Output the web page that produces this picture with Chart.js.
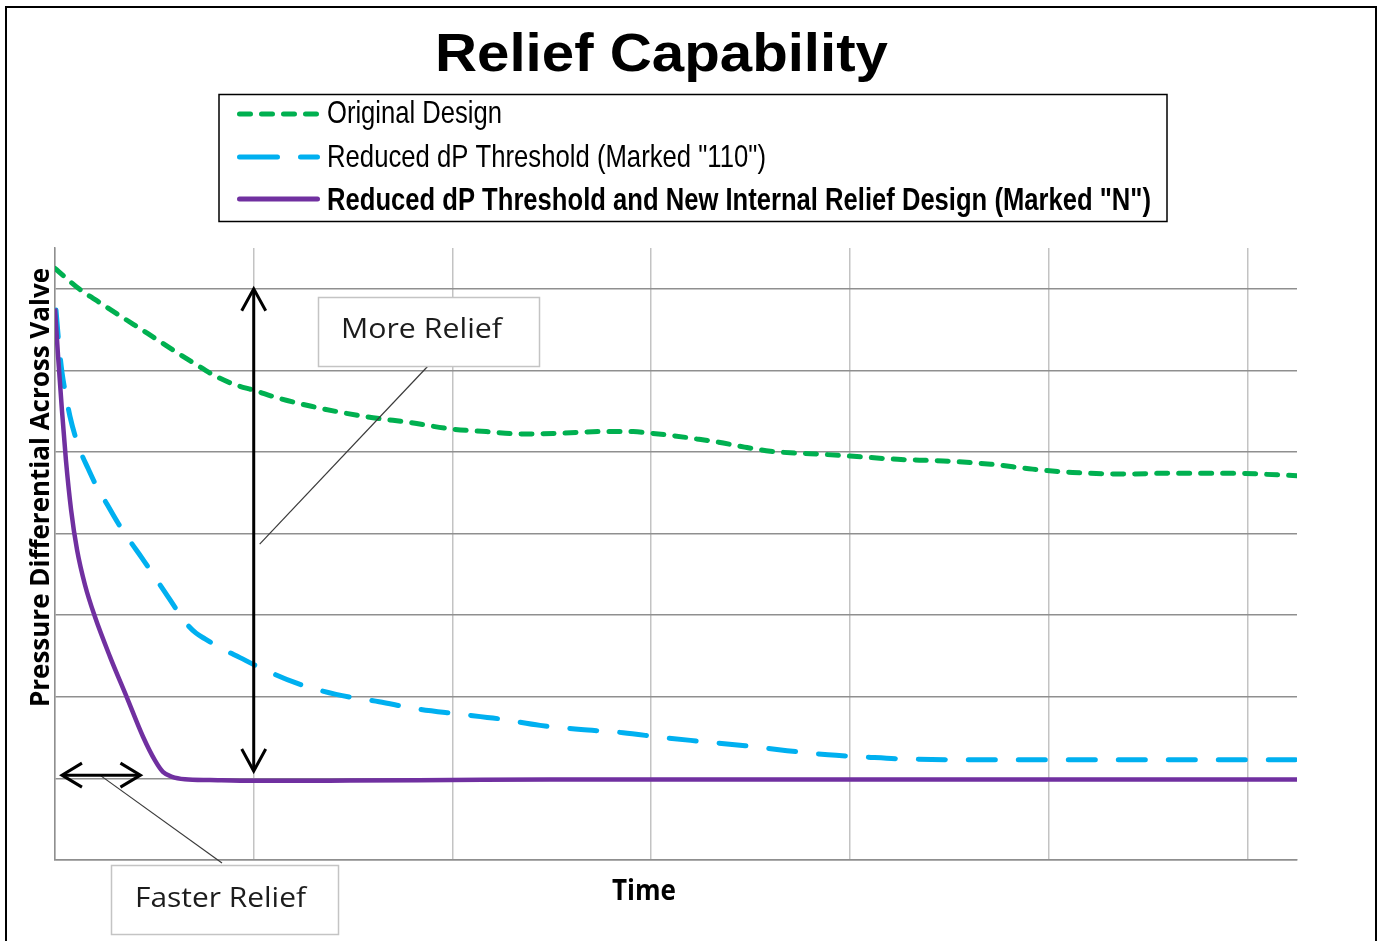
<!DOCTYPE html>
<html><head><meta charset="utf-8">
<script src="https://cdn.jsdelivr.net/npm/chart.js@4.4.1/dist/chart.umd.min.js"></script>
<style>html,body{margin:0;padding:0;background:#fff;overflow:hidden}canvas{display:block}</style>
</head><body>
<canvas id="c" width="1377" height="941" style="width:1377px;height:941px"></canvas>
<script>
// ---------- text ----------
const chartTitle = 'Relief Capability';
const xAxisTitle = 'Time';
const yAxisTitle = 'Pressure Differential Across Valve';
const seriesLabels = [
  'Original Design',
  'Reduced dP Threshold (Marked "110")',
  'Reduced dP Threshold and New Internal Relief Design (Marked "N")'
];
const annotationLabels = ['More Relief', 'Faster Relief'];

// ---------- ticks (grid positions only, labels hidden) ----------
const xTicks = [0, 1, 2, 3, 4, 5, 6];
const yTicks = [0, 1, 2, 3, 4, 5, 6, 7];

// ---------- series values ----------
const originalX = [0, 0.126, 0.226, 0.327, 0.468, 0.594, 0.705, 0.80, 0.90, 1.01, 1.11, 1.29, 1.43, 1.60, 1.79, 2.00, 2.17, 2.36, 2.54, 2.75, 2.91, 3.00, 3.11, 3.23, 3.34, 3.47, 3.60, 3.70, 3.80, 4.00, 4.24, 4.47, 4.71, 4.92, 5.12, 5.37, 5.61, 5.93, 6.15, 6.25];
const originalY = [7.25, 6.99, 6.83, 6.67, 6.45, 6.25, 6.08, 5.94, 5.83, 5.75, 5.67, 5.56, 5.49, 5.42, 5.36, 5.28, 5.25, 5.22, 5.23, 5.25, 5.25, 5.23, 5.20, 5.16, 5.12, 5.06, 5.01, 4.99, 4.98, 4.95, 4.91, 4.89, 4.85, 4.79, 4.75, 4.73, 4.74, 4.74, 4.72, 4.71];

const reducedX = [0.005, 0.02, 0.035, 0.055, 0.075, 0.101, 0.131, 0.166, 0.211, 0.262, 0.317, 0.377, 0.438, 0.493, 0.554, 0.614, 0.664, 0.71, 0.755, 0.84, 0.931, 1.021, 1.213, 1.414, 1.631, 1.827, 2.028, 2.235, 2.441, 2.647, 2.859, 3.06, 3.266, 3.473, 3.684, 3.89, 4.092, 4.253, 4.5, 5.0, 5.5, 6.0, 6.25];
const reducedY = [6.74, 6.31, 5.98, 5.69, 5.44, 5.20, 4.99, 4.80, 4.57, 4.36, 4.13, 3.91, 3.70, 3.50, 3.28, 3.06, 2.89, 2.78, 2.71, 2.59, 2.48, 2.37, 2.17, 2.03, 1.94, 1.85, 1.79, 1.73, 1.65, 1.60, 1.56, 1.50, 1.45, 1.40, 1.34, 1.29, 1.26, 1.24, 1.23, 1.23, 1.23, 1.23, 1.23];

const newDesignX = [0, 0.015, 0.035, 0.055, 0.081, 0.111, 0.151, 0.201, 0.277, 0.362, 0.443, 0.503, 0.543, 0.589, 0.654, 0.78, 1.0, 1.23, 1.48, 1.99, 2.49, 3.0, 4.0, 5.0, 6.0, 6.25];
const newDesignY = [6.76, 6.19, 5.51, 4.90, 4.29, 3.80, 3.37, 2.98, 2.49, 1.99, 1.51, 1.22, 1.08, 1.02, 0.99, 0.98, 0.97, 0.97, 0.975, 0.98, 0.985, 0.985, 0.985, 0.985, 0.985, 0.985];

// ---------- annotation arrows, in data units ----------
const moreReliefArrow = { x: 1.0, yFrom: 7.0, yTo: 1.09 };
const fasterReliefArrow = { y: 1.04, xFrom: 0.035, xTo: 0.43 };
const moreReliefLeaderEnd = { x: 1.03, y: 3.87 };
const fasterReliefLeaderEnd = { x: 0.226, y: 1.04 };

// ---------- styling ----------
const colors = ['#00B050', '#00B0F0', '#7030A0'];
const toPts = (xs, ys) => xs.map((x, i) => ({ x, y: ys[i] }));

function fitText(ctx, text, left, baseline, width, font, color) {
  ctx.save();
  ctx.font = font; ctx.fillStyle = color; ctx.textAlign = 'left'; ctx.textBaseline = 'alphabetic';
  const w = ctx.measureText(text).width;
  ctx.translate(left, baseline); ctx.scale(width / w, 1);
  ctx.fillText(text, 0, 0);
  ctx.restore();
}
function fitTextUp(ctx, text, baselineX, bottomY, length, font, color) {
  ctx.save();
  ctx.font = font; ctx.fillStyle = color; ctx.textAlign = 'left'; ctx.textBaseline = 'alphabetic';
  const w = ctx.measureText(text).width;
  ctx.translate(baselineX, bottomY); ctx.rotate(-Math.PI / 2); ctx.scale(length / w, 1);
  ctx.fillText(text, 0, 0);
  ctx.restore();
}
function arrowHead(ctx, tx, ty, dx, dy, len, half) {
  const bx = tx - dx * len, by = ty - dy * len, px = -dy, py = dx;
  ctx.beginPath();
  ctx.moveTo(bx + px * half, by + py * half);
  ctx.lineTo(tx, ty);
  ctx.lineTo(bx - px * half, by - py * half);
  ctx.stroke();
}
function labelBox(ctx, x, y, w, h) {
  ctx.save();
  ctx.fillStyle = '#fff'; ctx.fillRect(x, y, w, h);
  ctx.strokeStyle = '#c4c4c4'; ctx.lineWidth = 1.5; ctx.strokeRect(x + 0.5, y + 0.5, w, h);
  ctx.restore();
}

const decor = {
  id: 'decor',
  beforeDraw(chart) {
    const ctx = chart.ctx;
    ctx.save(); ctx.fillStyle = '#fff'; ctx.fillRect(0, 0, chart.width, chart.height); ctx.restore();
  },
  afterDatasetsDraw(chart) {
    const ctx = chart.ctx, xs = chart.scales.x, ys = chart.scales.y;
    ctx.save();
    // leader lines
    ctx.strokeStyle = '#3a3a3a'; ctx.lineWidth = 1.2;
    ctx.beginPath();
    ctx.moveTo(428, 366);
    ctx.lineTo(xs.getPixelForValue(moreReliefLeaderEnd.x), ys.getPixelForValue(moreReliefLeaderEnd.y));
    ctx.stroke();
    ctx.beginPath();
    ctx.moveTo(222, 863);
    ctx.lineTo(xs.getPixelForValue(fasterReliefLeaderEnd.x), ys.getPixelForValue(fasterReliefLeaderEnd.y));
    ctx.stroke();

    // vertical double arrow
    ctx.strokeStyle = '#000'; ctx.lineWidth = 3; ctx.lineCap = 'butt'; ctx.lineJoin = 'miter';
    const ax = xs.getPixelForValue(moreReliefArrow.x);
    const ay1 = ys.getPixelForValue(moreReliefArrow.yFrom), ay2 = ys.getPixelForValue(moreReliefArrow.yTo);
    ctx.beginPath(); ctx.moveTo(ax, ay1 + 1); ctx.lineTo(ax, ay2 - 1); ctx.stroke();
    arrowHead(ctx, ax, ay1, 0, -1, 22, 12);
    arrowHead(ctx, ax, ay2, 0, 1, 22, 12);
    // horizontal double arrow
    const hy = ys.getPixelForValue(fasterReliefArrow.y);
    const hx1 = xs.getPixelForValue(fasterReliefArrow.xFrom), hx2 = xs.getPixelForValue(fasterReliefArrow.xTo);
    ctx.beginPath(); ctx.moveTo(hx1 + 1, hy); ctx.lineTo(hx2 - 1, hy); ctx.stroke();
    arrowHead(ctx, hx1, hy, -1, 0, 20, 12);
    arrowHead(ctx, hx2, hy, 1, 0, 20, 12);
    ctx.restore();

    // label boxes
    labelBox(ctx, 318, 297, 221, 69);
    fitText(ctx, annotationLabels[0], 341, 338, 161, '27px "Open Sans", "Noto Sans", sans-serif', '#1c1c1c');
    labelBox(ctx, 111, 865, 227, 69);
    fitText(ctx, annotationLabels[1], 135, 907, 171, '27px "Open Sans", "Noto Sans", sans-serif', '#1c1c1c');
  },
  afterDraw(chart) {
    const ctx = chart.ctx;
    // outer frame
    ctx.save(); ctx.strokeStyle = '#000'; ctx.lineWidth = 2; ctx.strokeRect(6, 7, 1370, 960); ctx.restore();
    // title
    fitText(ctx, chartTitle, 435, 71, 453, 'bold 53px "Liberation Sans", Arial, sans-serif', '#000');
    // legend box
    ctx.save(); ctx.strokeStyle = '#000'; ctx.lineWidth = 1.5; ctx.strokeRect(219, 94.5, 948, 127); ctx.restore();
    const rows = [114, 157, 199], base = [123, 167, 210], widths = [175, 439, 824];
    const dashes = [[11, 11], [38, 23], []];
    const fonts = ['32px "Liberation Sans Narrow", "Liberation Sans", Arial, sans-serif',
                   '32px "Liberation Sans Narrow", "Liberation Sans", Arial, sans-serif',
                   'bold 32px "Liberation Sans Narrow", "Liberation Sans", Arial, sans-serif'];
    for (let i = 0; i < 3; i++) {
      ctx.save();
      ctx.strokeStyle = colors[i]; ctx.lineWidth = 5; ctx.lineCap = 'round';
      ctx.setLineDash(dashes[i]);
      ctx.beginPath(); ctx.moveTo(239.5, rows[i]); ctx.lineTo(317.5, rows[i]); ctx.stroke();
      ctx.restore();
      fitText(ctx, seriesLabels[i], 327, base[i], widths[i], fonts[i], '#000');
    }
    // axis titles
    fitText(ctx, xAxisTitle, 612, 900, 64, 'bold 28px "Open Sans", "Noto Sans", sans-serif', '#000');
    fitTextUp(ctx, yAxisTitle, 49, 707, 439, 'bold 27px "Open Sans", "Noto Sans", sans-serif', '#000');
  }
};

new Chart(document.getElementById('c'), {
  type: 'line',
  data: {
    datasets: [
      { label: seriesLabels[0], data: toPts(originalX, originalY), borderColor: colors[0], borderWidth: 5,
        borderDash: [11, 11], borderCapStyle: 'round', pointRadius: 0, cubicInterpolationMode: 'monotone', fill: false, order: 3 },
      { label: seriesLabels[1], data: toPts(reducedX, reducedY), borderColor: colors[1], borderWidth: 5,
        borderDash: [27, 23], borderCapStyle: 'round', pointRadius: 0, cubicInterpolationMode: 'monotone', fill: false, order: 2 },
      { label: seriesLabels[2], data: toPts(newDesignX, newDesignY), borderColor: colors[2], borderWidth: 4.5,
        pointRadius: 0, cubicInterpolationMode: 'monotone', fill: false, order: 1 }
    ]
  },
  options: {
    responsive: false, animation: false, devicePixelRatio: 1,
    layout: { padding: { left: 55, top: 248, right: 80, bottom: 81 } },
    plugins: { legend: { display: false }, title: { display: false }, tooltip: { enabled: false } },
    scales: {
      x: { type: 'linear', min: 0, max: 6.25,
        afterBuildTicks: s => { s.ticks = xTicks.map(v => ({ value: v })); },
        ticks: { display: false }, title: { display: false },
        grid: { color: '#c3c3c3', lineWidth: 1.5, drawTicks: false },
        border: { display: true, color: '#8f8f8f', width: 1.5 } },
      y: { type: 'linear', min: 0, max: 7.5,
        afterBuildTicks: s => { s.ticks = yTicks.map(v => ({ value: v })); },
        ticks: { display: false }, title: { display: false },
        grid: { color: '#8f8f8f', lineWidth: 1.5, drawTicks: false },
        border: { display: true, color: '#8f8f8f', width: 1.5 } }
    }
  },
  plugins: [decor]
});
</script>
</body></html>
